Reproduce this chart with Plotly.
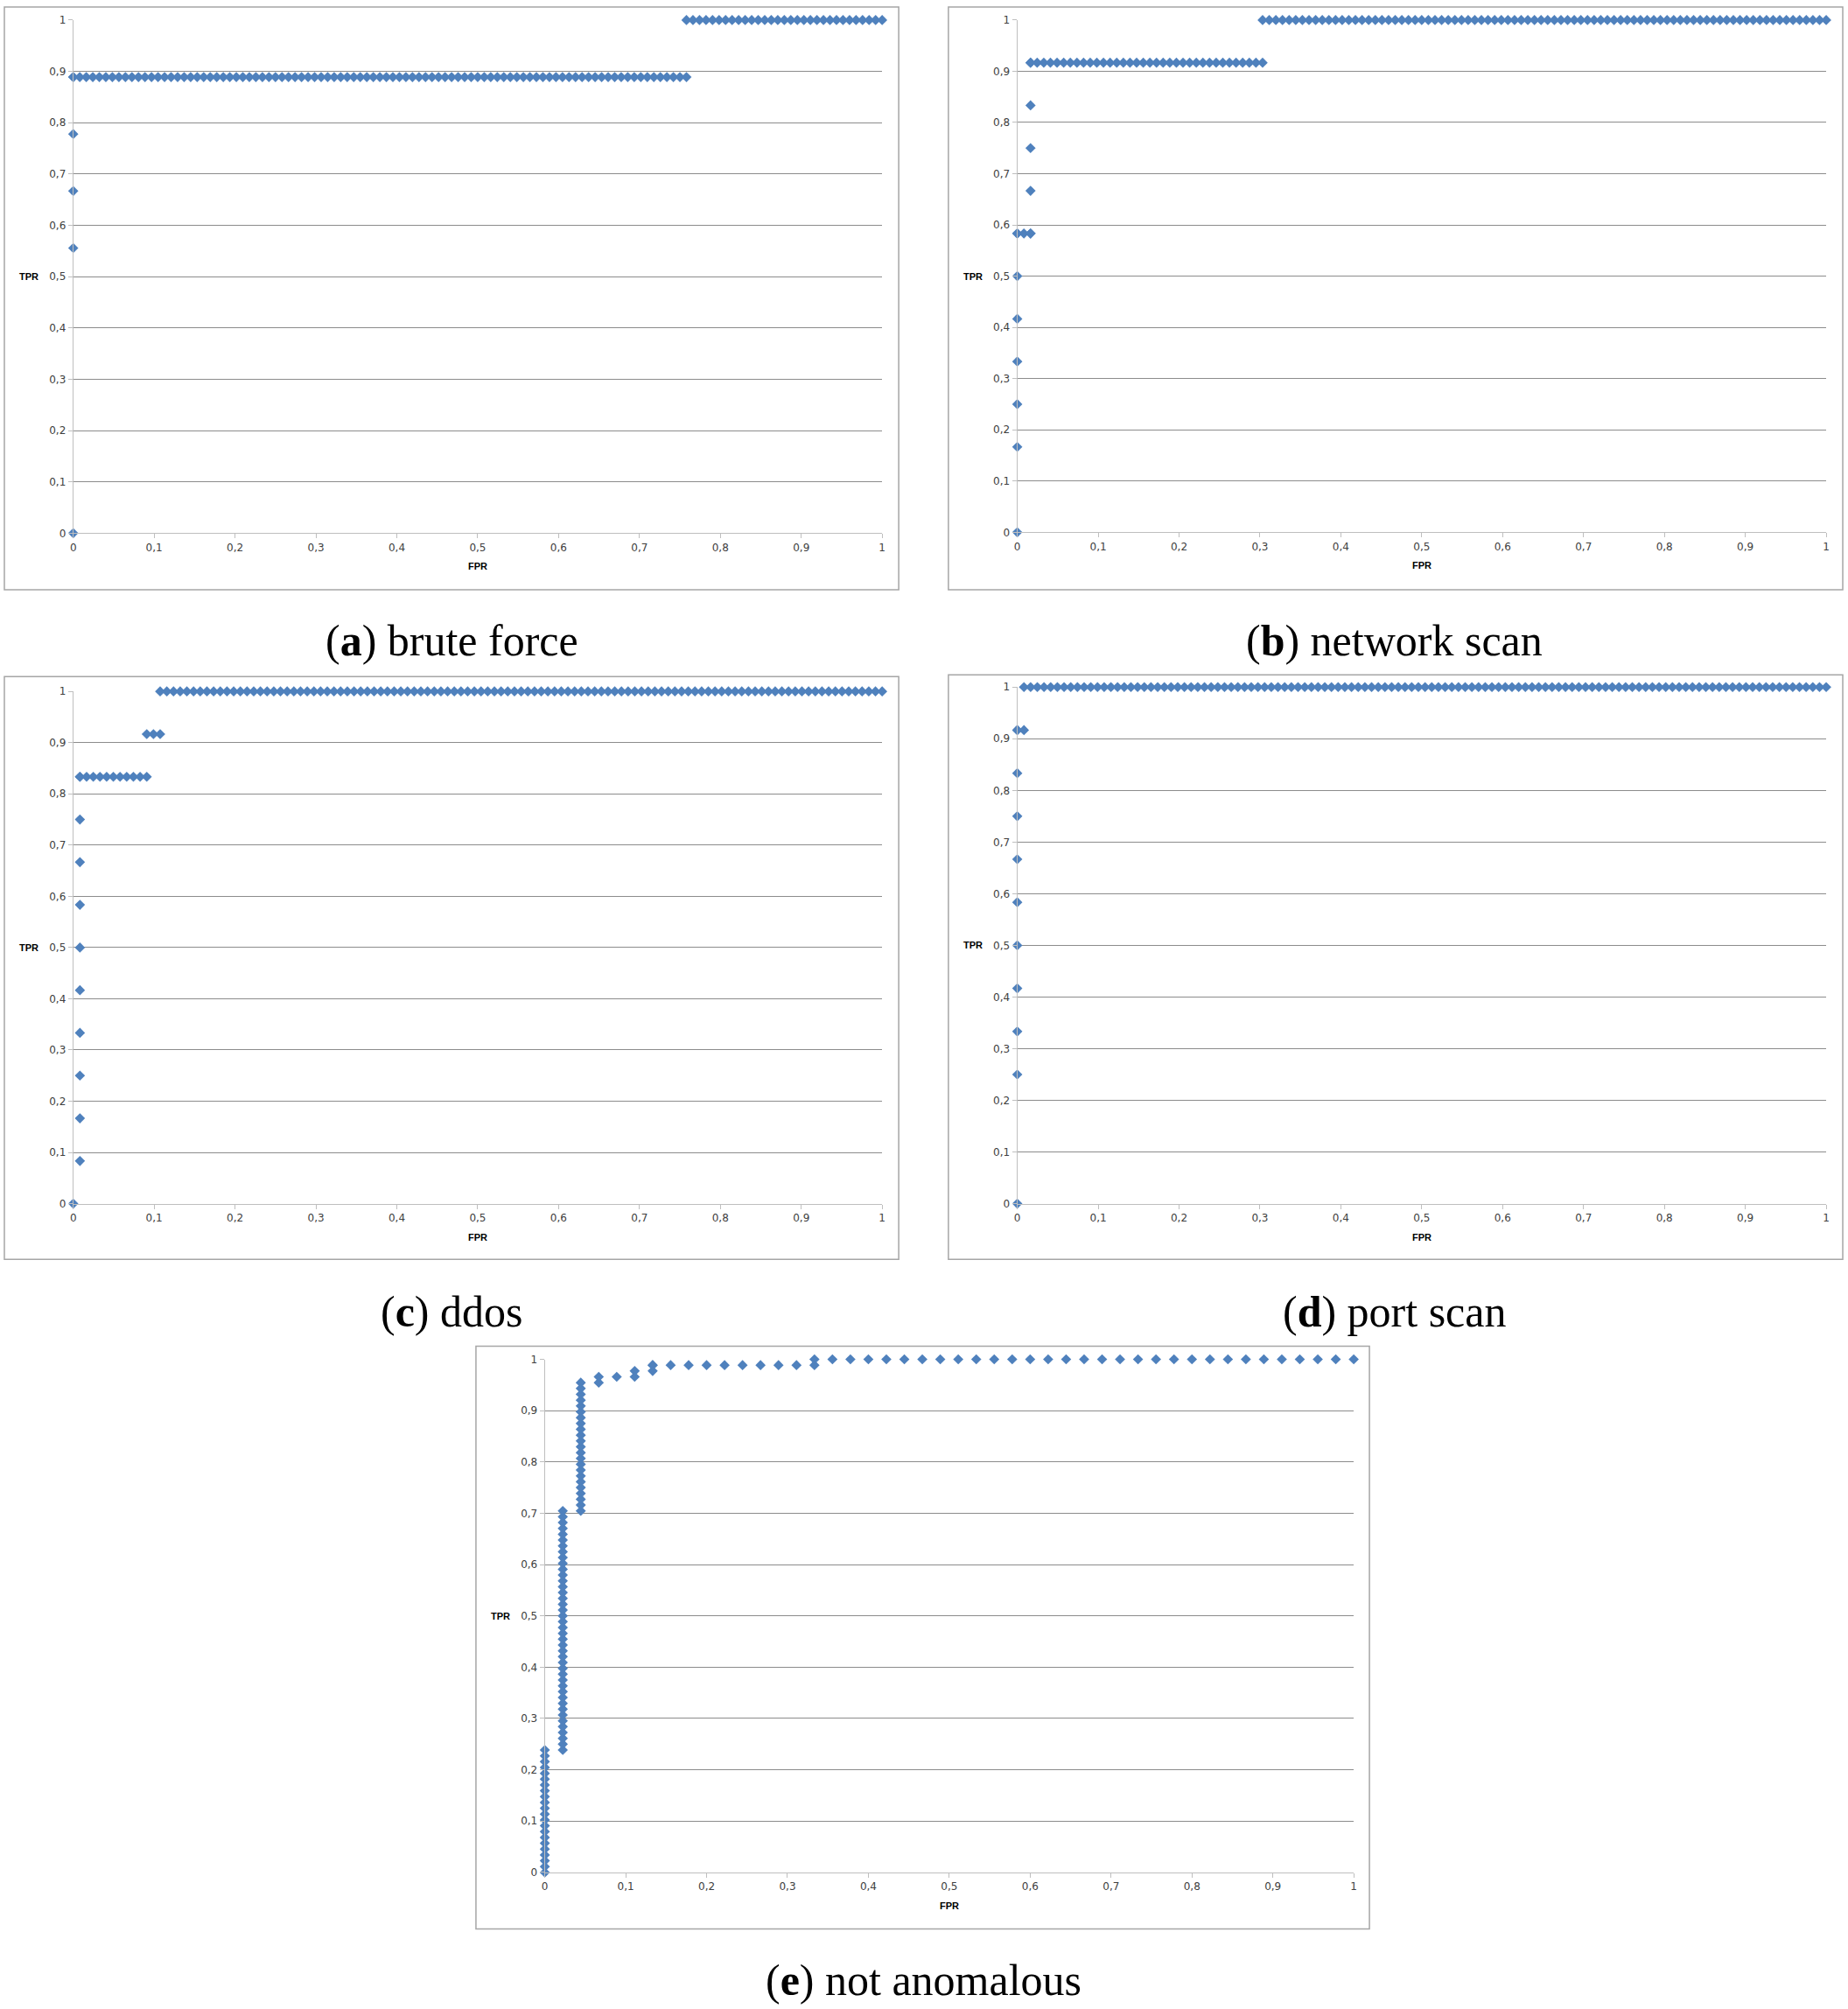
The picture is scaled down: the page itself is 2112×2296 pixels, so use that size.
import plotly.graph_objects as go

W, H = 2112, 2296
BLUE = "#4F81BD"

# axis ticks (shared by every panel)
tick_vals = [0, 0.1, 0.2, 0.3, 0.4, 0.5, 0.6, 0.7, 0.8, 0.9, 1]
tick_text = ["0", "0,1", "0,2", "0,3", "0,4", "0,5", "0,6", "0,7", "0,8", "0,9", "1"]

# ROC points as runs of (false positives, true positives) counts;
# every marker of a run sits one count apart
a_neg, a_pos = 124, 9
a_runs = [((0, 0), (0, 0)), ((0, 5), (0, 8)), ((0, 8), (94, 8)), ((94, 9), (124, 9))]

b_neg, b_pos = 122, 12
b_runs = [((0, 0), (0, 0)), ((0, 2), (0, 7)), ((0, 7), (2, 7)), ((2, 7), (2, 11)),
          ((2, 11), (37, 11)), ((37, 12), (122, 12))]

c_neg, c_pos = 121, 12
c_runs = [((0, 0), (0, 0)), ((1, 1), (1, 10)), ((1, 10), (11, 10)), ((11, 11), (13, 11)),
          ((13, 12), (121, 12))]

d_neg, d_pos = 121, 12
d_runs = [((0, 0), (0, 0)), ((0, 3), (0, 11)), ((0, 11), (1, 11)), ((1, 12), (121, 12))]

e_neg, e_pos = 45, 88
e_runs = [((0, 0), (0, 21)), ((1, 21), (1, 62)), ((2, 62), (2, 84)), ((3, 84), (3, 85)),
          ((4, 85), (4, 85)), ((5, 85), (5, 86)), ((6, 86), (6, 87)), ((6, 87), (15, 87)),
          ((15, 88), (45, 88))]

captions = ["a", "b", "c", "d", "e"]
caption_text = ["brute force", "network scan", "ddos", "port scan", "not anomalous"]


def expand(runs, neg, pos):
    fpr, tpr = [], []
    for (f0, t0), (f1, t1) in runs:
        for f in range(f0, f1 + 1):
            for t in range(t0, t1 + 1):
                fpr.append(f / neg)
                tpr.append(t / pos)
    return fpr, tpr


data = [expand(a_runs, a_neg, a_pos), expand(b_runs, b_neg, b_pos),
        expand(c_runs, c_neg, c_pos), expand(d_runs, d_neg, d_pos),
        expand(e_runs, e_neg, e_pos)]

# pixel boxes: plot area (x0, y0, x1, y1), outer frame, caption centre
areas = [(80, 16, 1008, 606), (1163, 16, 2091, 605), (80, 788, 1008, 1377),
         (1163, 783, 2091, 1377), (621, 1556, 1549, 2146)]
frames = [(1, 1, 1027, 671), (1084, 1, 2110, 671), (1, 771, 1027, 1441),
          (1084, 769, 2110, 1441), (542, 1541, 1567, 2211)]
cap_pos = [(514, 729), (1596, 729), (514, 1501), (1596, 1501), (1055, 2270)]

fig = go.Figure()
layout = dict(width=W, height=H, margin=dict(l=0, r=0, t=0, b=0),
              paper_bgcolor="white", plot_bgcolor="white", showlegend=False)
shapes, annotations = [], []
tick_font = dict(family="DejaVu Sans", size=12, color="#404040")

for i, (fpr, tpr) in enumerate(data):
    n = i + 1
    sfx = "" if n == 1 else str(n)
    x0, y0, x1, y1 = areas[i]
    fig.add_trace(go.Scatter(x=fpr, y=tpr, mode="markers", xaxis="x" + sfx, yaxis="y" + sfx,
                             marker=dict(symbol="diamond", size=9, color=BLUE, line=dict(width=0)),
                             cliponaxis=False, hoverinfo="skip"))
    layout["xaxis" + sfx] = dict(domain=[x0 / W, x1 / W], anchor="y" + sfx, range=[0, 1],
                                 showgrid=False, zeroline=False, showline=True,
                                 linecolor="#BFBFBF", linewidth=1, ticks="outside", ticklen=5,
                                 tickcolor="#BFBFBF", tickvals=tick_vals, ticktext=tick_text,
                                 tickfont=tick_font, fixedrange=True)
    layout["yaxis" + sfx] = dict(domain=[1 - y1 / H, 1 - y0 / H], anchor="x" + sfx, range=[0, 1],
                                 showgrid=True, gridcolor="#8C8C8C", gridwidth=1, zeroline=False,
                                 showline=True, linecolor="#BFBFBF", linewidth=1, ticks="outside",
                                 ticklen=5, tickcolor="#BFBFBF", tickvals=tick_vals,
                                 ticktext=tick_text, tickfont=tick_font, fixedrange=True)
    fx0, fy0, fx1, fy1 = frames[i]
    shapes.append(dict(type="rect", xref="paper", yref="paper", x0=fx0 / W, x1=fx1 / W,
                       y0=1 - fy1 / H, y1=1 - fy0 / H, line=dict(color="#A6A6A6", width=1.5),
                       layer="below"))
    annotations.append(dict(text="<b>TPR</b>", xref="x" + sfx + " domain", yref="y" + sfx,
                            x=0, y=0.5, xanchor="right", yanchor="middle", xshift=-38,
                            showarrow=False, font=dict(family="Liberation Sans", size=11, color="black")))
    annotations.append(dict(text="<b>FPR</b>", xref="x" + sfx + " domain", yref="y" + sfx + " domain",
                            x=0.5, y=0, xanchor="center", yanchor="middle", yshift=-38,
                            showarrow=False, font=dict(family="Liberation Sans", size=11, color="black")))
    cx, cy = cap_pos[i]
    annotations.append(dict(text="(<b>%s</b>) %s" % (captions[i], caption_text[i]),
                            xref="paper", yref="paper", x=cx / W, y=1 - cy / H,
                            xanchor="center", yanchor="middle", showarrow=False,
                            font=dict(family="Liberation Serif", size=50, color="black")))

layout["shapes"] = shapes
layout["annotations"] = annotations
fig.update_layout(**layout)
# drop the browser's default body margin and scrollbars so the figure fills the page
page_js = ("document.body.style.margin='0';document.body.style.overflow='hidden';"
           "document.documentElement.style.overflow='hidden';")
fig.write_html("out.html", config={"displayModeBar": False}, post_script=page_js)
